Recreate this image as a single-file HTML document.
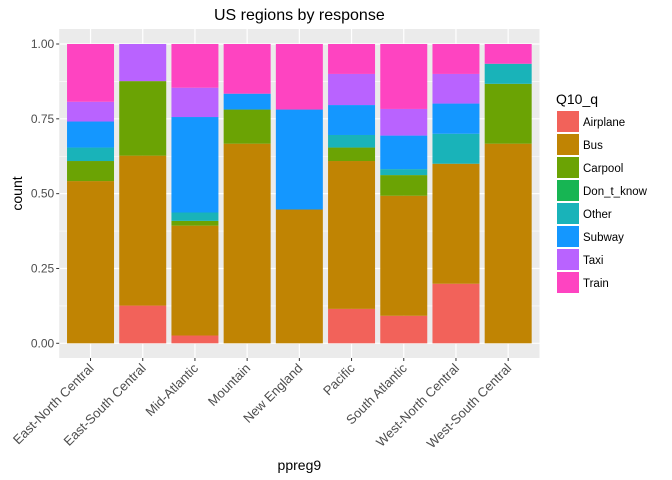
<!DOCTYPE html>
<html><head><meta charset="utf-8"><style>
body{margin:0;background:#fff;}
svg{font-family:"Liberation Sans",Arial,sans-serif;display:block;}
</style></head><body>
<svg id="chart" width="672" height="480"></svg>
<script>
const categories=["East-North Central","East-South Central","Mid-Atlantic","Mountain","New England","Pacific","South Atlantic","West-North Central","West-South Central"];
const seriesNames=["Airplane","Bus","Carpool","Don_t_know","Other","Subway","Taxi","Train"];
const airplane=[0,0.126,0.026,0,0,0.115,0.092,0.199,0];
const bus=[0.542,0.501,0.367,0.667,0.447,0.494,0.401,0.401,0.667];
const carpool=[0.067,0.249,0.016,0.114,0,0.045,0.069,0,0.200];
const dontknow=[0,0,0,0,0,0,0,0,0];
const other=[0.045,0,0.028,0,0,0.042,0.020,0.100,0.067];
const subway=[0.087,0,0.319,0.053,0.334,0.100,0.112,0.101,0];
const taxi=[0.066,0.124,0.098,0,0,0.104,0.089,0.099,0];
const train=[0.193,0,0.146,0.166,0.219,0.100,0.217,0.100,0.066];
const yTicks=[0,0.25,0.5,0.75,1];
const yTickLabels=["0.00","0.25","0.50","0.75","1.00"];
const colors=["#F2625A","#C08403","#6BA304","#17B553","#19B3B9","#1497FF","#B963FF","#FE44C1"];

const series=[airplane,bus,carpool,dontknow,other,subway,taxi,train];
const svg=document.getElementById('chart');
const NS='http://www.w3.org/2000/svg';
function mk(tag,attrs,parent){const e=document.createElementNS(NS,tag);for(const k in attrs)e.setAttribute(k,attrs[k]);(parent||svg).appendChild(e);return e;}
const pL=59.2,pR=539.5,pT=29,pB=358;
const step=(pR-pL)/(categories.length-1+1.2);
const bw=step*0.9;
function xc(i){return pL+step*(0.6+i);}
function y(v){return 343.3-v*299.3;}

const panel=mk('rect',{x:pL,y:pT,width:pR-pL,height:pB-pT,fill:'#EBEBEB'});


for(let i=0;i<yTicks.length-1;i++){
  const m=(yTicks[i]+yTicks[i+1])/2;
  const g=mk('line',{x1:pL,x2:pR,y1:y(m),y2:y(m),stroke:'#fff','stroke-width':0.6});
  
  
}
yTicks.forEach((t,i)=>{
  const g=mk('line',{x1:pL,x2:pR,y1:y(t),y2:y(t),stroke:'#fff','stroke-width':1.2});
  
  
  const tk=mk('line',{x1:pL-3,x2:pL,y1:y(t),y2:y(t),stroke:'#333','stroke-width':1});
  
  
  const tx=mk('text',{x:pL-5,y:y(t)+4,'text-anchor':'end','font-size':12,fill:'#4D4D4D'});
  tx.textContent=yTickLabels[i];
  
  
});
categories.forEach((c,i)=>{
  const g=mk('line',{x1:xc(i),x2:xc(i),y1:pT,y2:pB,stroke:'#fff','stroke-width':1.2});
  
  
});
categories.forEach((c,i)=>{
  let cum=0;
  series.forEach((s,j)=>{
    const v=s[i];
    if(v>0){
      const r=mk('rect',{x:xc(i)-bw/2,y:y(cum+v),width:bw,height:y(cum)-y(cum+v),fill:colors[j]});
      
      
    }
    cum+=v;
  });
  const tk=mk('line',{x1:xc(i),x2:xc(i),y1:pB,y2:pB+3,stroke:'#333','stroke-width':1});
  
  
  const ax=xc(i)+4, ay=pB+11;
  const tx=mk('text',{x:ax,y:ay,'text-anchor':'end','font-size':13,fill:'#4D4D4D',transform:`rotate(-45 ${ax} ${ay})`});
  tx.textContent=c;
  
  
});
const title=mk('text',{x:(pL+pR)/2,y:20,'text-anchor':'middle','font-size':16,fill:'#000'});
title.textContent='US regions by response';


const xt=mk('text',{x:(pL+pR)/2,y:470,'text-anchor':'middle','font-size':14,fill:'#000'});
xt.textContent='ppreg9';


const yt=mk('text',{x:0,y:0,'text-anchor':'middle','font-size':14,fill:'#000',transform:`translate(22 ${(pT+pB)/2}) rotate(-90)`});
yt.textContent='count';


const lt=mk('text',{x:556,y:104,'font-size':14,fill:'#000'});
lt.textContent='Q10_q';


seriesNames.forEach((n,j)=>{
  const ky=111+j*23;
  const r=mk('rect',{x:557,y:ky,width:22,height:21,fill:colors[j]});
  
  
  const t=mk('text',{x:583,y:ky+15,'font-size':11.5,fill:'#000'});
  t.textContent=n;
  
  
});
</script>
</body></html>
